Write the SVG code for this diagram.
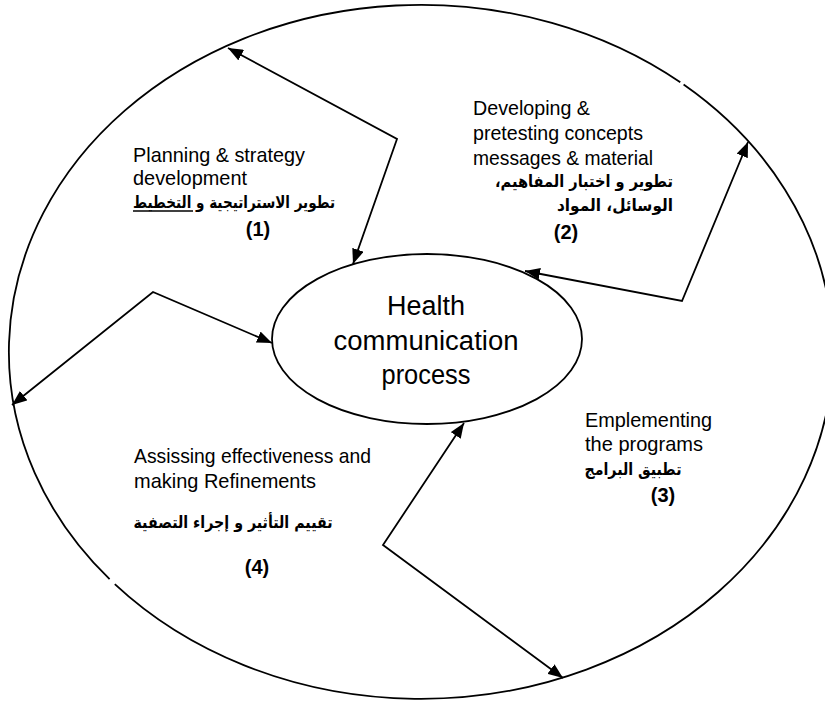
<svg xmlns="http://www.w3.org/2000/svg" width="825" height="704" viewBox="0 0 825 704">
<style>
.bg{fill:#fff}
.ring{fill:none;stroke:#000;stroke-width:1.8}
.hub{fill:#fff;stroke:#000;stroke-width:1.8}
.con{fill:none;stroke:#000;stroke-width:1.8;marker-start:url(#ah);marker-end:url(#ah)}
.en{font-family:"Liberation Sans",Arial,sans-serif;font-size:21px;fill:#000}
.ar{font-family:"DejaVu Sans","Noto Sans",sans-serif;font-size:16.5px;font-weight:bold;fill:#000;text-anchor:middle}
.num{font-family:"Liberation Sans",Arial,sans-serif;font-size:20px;font-weight:bold;fill:#000;text-anchor:middle}
.hub-t{font-family:"Liberation Sans",Arial,sans-serif;font-size:27px;fill:#000;text-anchor:middle}
.ul{stroke:#000;stroke-width:1.3}
</style>
<defs>
<marker id="ah" markerUnits="userSpaceOnUse" markerWidth="15" markerHeight="12" viewBox="0 0 15 12" refX="15" refY="6" orient="auto-start-reverse">
<path d="M0,0 L15,6 L0,12 z" fill="#000"/>
</marker>
</defs>
<rect class="bg" x="0" y="0" width="825" height="704"/>
<g id="outer-cycle">
<path class="ring" d="M683.6,84.6 A412,347 0 1 1 114.8,584.2"/>
<path class="ring" d="M109.6,579.2 A412,347 0 0 1 680.3,82.3"/>
</g>
<g id="connectors">
<polyline class="con" points="228,48 397,139 353,264"/>
<polyline class="con" points="525,271 682,301 748,142"/>
<polyline class="con" points="12,405 153,292 272,343"/>
<polyline class="con" points="464,423 383,545 563,678"/>
</g>
<g id="hub">
<ellipse class="hub" cx="427" cy="339" rx="155" ry="85"/>
<text class="hub-t" x="426" y="315" textLength="78" lengthAdjust="spacingAndGlyphs">Health</text>
<text class="hub-t" x="426" y="350" textLength="185" lengthAdjust="spacingAndGlyphs">communication</text>
<text class="hub-t" x="426" y="384" textLength="89" lengthAdjust="spacingAndGlyphs">process</text>
</g>
<g id="step1">
<text class="en" x="133" y="162" textLength="172" lengthAdjust="spacingAndGlyphs">Planning &amp; strategy</text>
<text class="en" x="133" y="185" textLength="114" lengthAdjust="spacingAndGlyphs">development</text>
<text class="ar" x="234" y="208" direction="rtl" textLength="202" lengthAdjust="spacingAndGlyphs">تطوير الاستراتيجية و التخطيط</text>
<line class="ul" x1="133" y1="211" x2="193" y2="211"/>
<text class="num" x="258" y="236">(1)</text>
</g>
<g id="step2">
<text class="en" x="473" y="115" textLength="117" lengthAdjust="spacingAndGlyphs">Developing &amp;</text>
<text class="en" x="473" y="140" textLength="170" lengthAdjust="spacingAndGlyphs">pretesting concepts</text>
<text class="en" x="473" y="165" textLength="180" lengthAdjust="spacingAndGlyphs">messages &amp; material</text>
<text class="ar" x="584" y="187" direction="rtl" textLength="178" lengthAdjust="spacingAndGlyphs">تطوير و اختبار المفاهيم،</text>
<text class="ar" x="615" y="211" direction="rtl" textLength="116" lengthAdjust="spacingAndGlyphs">الوسائل، المواد</text>
<text class="num" x="566" y="239">(2)</text>
</g>
<g id="step3">
<text class="en" x="585" y="427" textLength="127" lengthAdjust="spacingAndGlyphs">Emplementing</text>
<text class="en" x="585" y="451" textLength="118" lengthAdjust="spacingAndGlyphs">the programs</text>
<text class="ar" x="633" y="475" direction="rtl" textLength="97" lengthAdjust="spacingAndGlyphs">تطبيق البرامج</text>
<text class="num" x="663" y="502">(3)</text>
</g>
<g id="step4">
<text class="en" x="134" y="463" textLength="237" lengthAdjust="spacingAndGlyphs">Assissing effectiveness and</text>
<text class="en" x="134" y="488" textLength="182" lengthAdjust="spacingAndGlyphs">making Refinements</text>
<text class="ar" x="233" y="528" direction="rtl" textLength="199" lengthAdjust="spacingAndGlyphs">تقييم التأثير و إجراء التصفية</text>
<text class="num" x="257" y="574">(4)</text>
</g>
</svg>
